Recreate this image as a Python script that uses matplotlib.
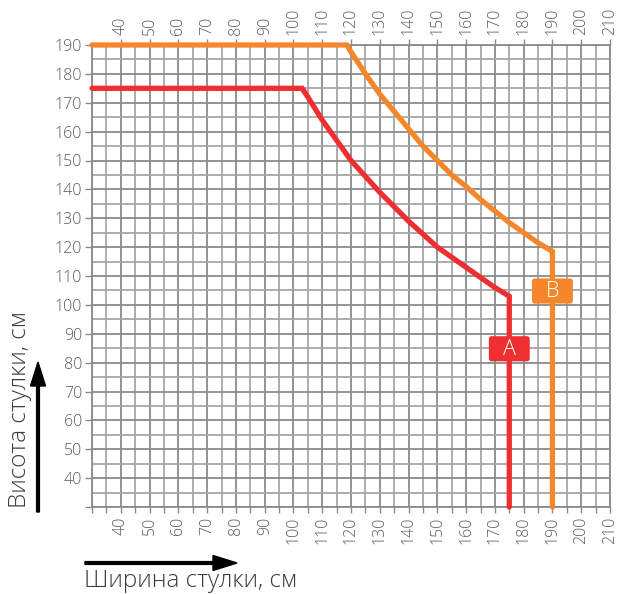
import matplotlib
matplotlib.use("Agg")
import matplotlib.pyplot as plt
from matplotlib.patches import FancyBboxPatch, FancyArrow
import numpy as np

plt.rcParams['font.family'] = ['Open Sans', 'DejaVu Sans']
plt.rcParams['font.weight'] = 'light'

# Curve A (red): width, height
A_w = [30, 103, 105, 110, 115, 120, 125, 130, 135, 140, 145, 150, 155, 160, 165, 170, 175, 175]
A_h = [175, 175, 172, 164, 157, 150, 144.5, 139, 134, 129, 124.5, 120, 116.5, 113, 109.5, 106, 103, 30]
# Curve B (orange)
B_w = [30, 118.5, 120, 125, 130, 135, 140, 145, 150, 155, 160, 165, 170, 175, 180, 185, 190, 190]
B_h = [190, 190, 187.6, 180, 173, 167, 161, 155, 150, 145, 141, 136.5, 132.5, 128.5, 125, 121.5, 118.5, 30]

labels = ['A', 'B']
x_ticks = list(range(40, 211, 10))
y_ticks = list(range(30, 191, 10))

RED = '#EE2E31'
ORANGE = '#F5862A'
GRID_MAJ = '#8a8a8a'
GRID_MIN = '#a6a6a6'
TXT = '#5a5a5a'

fig = plt.figure(figsize=(6.17, 5.94), dpi=100)
ax = fig.add_axes([92/617, 1-507/594, (610-92)/617, (507-45)/594])
ax.set_xlim(30, 210)
ax.set_ylim(30, 190)

ax.set_xticks(x_ticks)
ax.set_xticks(list(range(30, 211, 5)), minor=True)
ax.set_yticks(y_ticks)
ax.set_yticks(list(range(30, 191, 5)), minor=True)
ax.set_yticklabels(['' if v == 30 else str(v) for v in y_ticks])
ax.set_xticklabels([str(v) for v in x_ticks], rotation=90)

ax.grid(True, which='major', color=GRID_MAJ, lw=1.3, zorder=0)
ax.grid(True, which='minor', color=GRID_MIN, lw=1.3, zorder=0)
ax.set_axisbelow(True)
for s in ax.spines.values():
    s.set_color(GRID_MAJ)
    s.set_linewidth(1.3)

ax.tick_params(axis='x', which='both', top=True, labeltop=True, bottom=True, labelbottom=True,
               direction='out', length=4, width=1.0, color=GRID_MAJ, labelsize=11.5,
               labelcolor=TXT, pad=3)
ax.tick_params(axis='x', which='minor', top=False, length=4)
ax.tick_params(axis='y', which='major', direction='out', length=5, width=1.0,
               color=GRID_MAJ, labelsize=11.5, labelcolor=TXT, pad=2)
ax.tick_params(axis='y', which='minor', length=0)

ax.plot(A_w, A_h, color=RED, lw=3.8, solid_capstyle='round', solid_joinstyle='miter', zorder=3, clip_on=False)
ax.plot(B_w, B_h, color=ORANGE, lw=3.8, solid_capstyle='round', solid_joinstyle='miter', zorder=3, clip_on=False)

# label boxes
box_w, box_h = 14.2, 8.7
for lab, cx, cy, col in [(labels[0], A_w[-1], 84.8, RED), (labels[1], B_w[-1], 104.8, ORANGE)]:
    p = FancyBboxPatch((cx - box_w/2 + 0.8, cy - box_h/2 + 0.8), box_w - 1.6, box_h - 1.6,
                       boxstyle='round,pad=0.8,rounding_size=0.9', fc=col, ec='none', zorder=4)
    ax.add_patch(p)
    ax.text(cx, cy - 0.2, lab, color='white', fontsize=15.5, ha='center', va='center', zorder=5)

# axis titles and arrows
fig.text(20/617, 1-409/594, 'Висота стулки, см', rotation=90, ha='center', va='center',
         fontsize=17.5, color='#3a3a3a')
fig.text(84/617, 1-581/594, 'Ширина стулки, см', ha='left', va='center',
         fontsize=17.5, color='#3a3a3a')

fig.patches.append(FancyArrow(38/617, 1-512/594, 0, (512-362)/594, width=2.8/617,
                              head_width=15/617, head_length=24/594, length_includes_head=True,
                              color='black', transform=fig.transFigure, figure=fig))
fig.patches.append(FancyArrow(85/617, 1-563/594, (237-85)/617, 0, width=2.8/594,
                              head_width=15/594, head_length=24/617, length_includes_head=True,
                              color='black', transform=fig.transFigure, figure=fig))

fig.savefig('out.png', dpi=100)
